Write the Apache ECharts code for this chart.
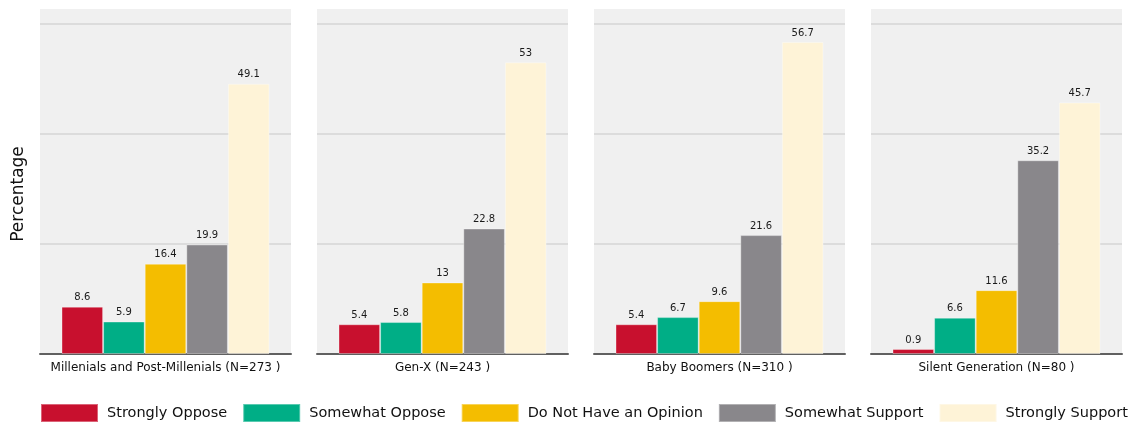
<!DOCTYPE html>
<html><head><meta charset="utf-8">
<script src="https://cdn.jsdelivr.net/npm/echarts@6/dist/echarts.min.js"></script>
<style>html,body{margin:0;padding:0;background:#fff}#c{width:1134px;height:428px}</style>
</head><body><div id="c"></div>
<script>
const groups = ['Millenials and Post-Millenials (N=273 )', 'Gen-X (N=243 )', 'Baby Boomers (N=310 )', 'Silent Generation (N=80 )'];
const seriesNames = ['Strongly Oppose', 'Somewhat Oppose', 'Do Not Have an Opinion', 'Somewhat Support', 'Strongly Support'];
const stronglyOppose = [8.6, 5.4, 5.4, 0.9];
const somewhatOppose = [5.9, 5.8, 6.7, 6.6];
const noOpinion = [16.4, 13, 9.6, 11.6];
const somewhatSupport = [19.9, 22.8, 21.6, 35.2];
const stronglySupport = [49.1, 53, 56.7, 45.7];
const yTicks = [0, 20, 40, 60];

const values = [stronglyOppose, somewhatOppose, noOpinion, somewhatSupport, stronglySupport];
const colors = ['#C8102E', '#00AE86', '#F4BD00', '#89878B', '#FEF3D7'];
const FONT = 'DejaVu Sans';
const panelLeft = [40, 317, 594, 871];
const panelW = 251;

const grid = [], xAxis = [], yAxis = [], series = [];
groups.forEach((g, i) => {
  grid.push({left: panelLeft[i], width: panelW, top: 10, bottom: 74, show: true, backgroundColor: '#F0F0F0', borderWidth: 0});
  xAxis.push({type: 'category', gridIndex: i, data: [g],
    axisLine: {lineStyle: {color: '#606060', width: 2}}, axisTick: {show: false},
    axisLabel: {fontFamily: FONT, fontSize: 12, color: '#111', margin: 8}});
  yAxis.push({type: 'value', gridIndex: i, min: yTicks[0], max: 62.5, interval: yTicks[1] - yTicks[0],
    name: i === 0 ? 'Percentage' : '', nameLocation: 'middle', nameGap: 13,
    nameTextStyle: {fontFamily: FONT, fontSize: 17, color: '#111', padding: [0, 24, 0, 0]},
    axisLabel: {show: false}, axisLine: {show: false}, axisTick: {show: false},
    splitLine: {lineStyle: {color: ['#F0F0F0', '#DCDCDC', '#DCDCDC', '#DCDCDC', '#F0F0F0'], width: 2}}});
  seriesNames.forEach((n, k) => {
    series.push({type: 'bar', name: n, xAxisIndex: i, yAxisIndex: i, data: [values[k][i]],
      barWidth: 41.6, barGap: '0%',
      itemStyle: {color: colors[k], borderColor: 'rgba(255,255,255,0.35)', borderWidth: 1},
      label: {show: true, position: 'top', distance: 4, fontFamily: FONT, fontSize: 10, color: '#1a1a1a'}});
  });
});

const chart = echarts.init(document.getElementById('c'), null, {renderer: 'canvas'});
chart.setOption({
  animation: false,
  grid, xAxis, yAxis, series,
  legend: {data: seriesNames, left: 40, top: 403, padding: 0, itemWidth: 57, itemHeight: 18, itemGap: 15,
    icon: 'rect', textStyle: {fontFamily: FONT, fontSize: 14.5, color: '#111', padding: [0, 0, 0, 4]}}
});
</script></body></html>
